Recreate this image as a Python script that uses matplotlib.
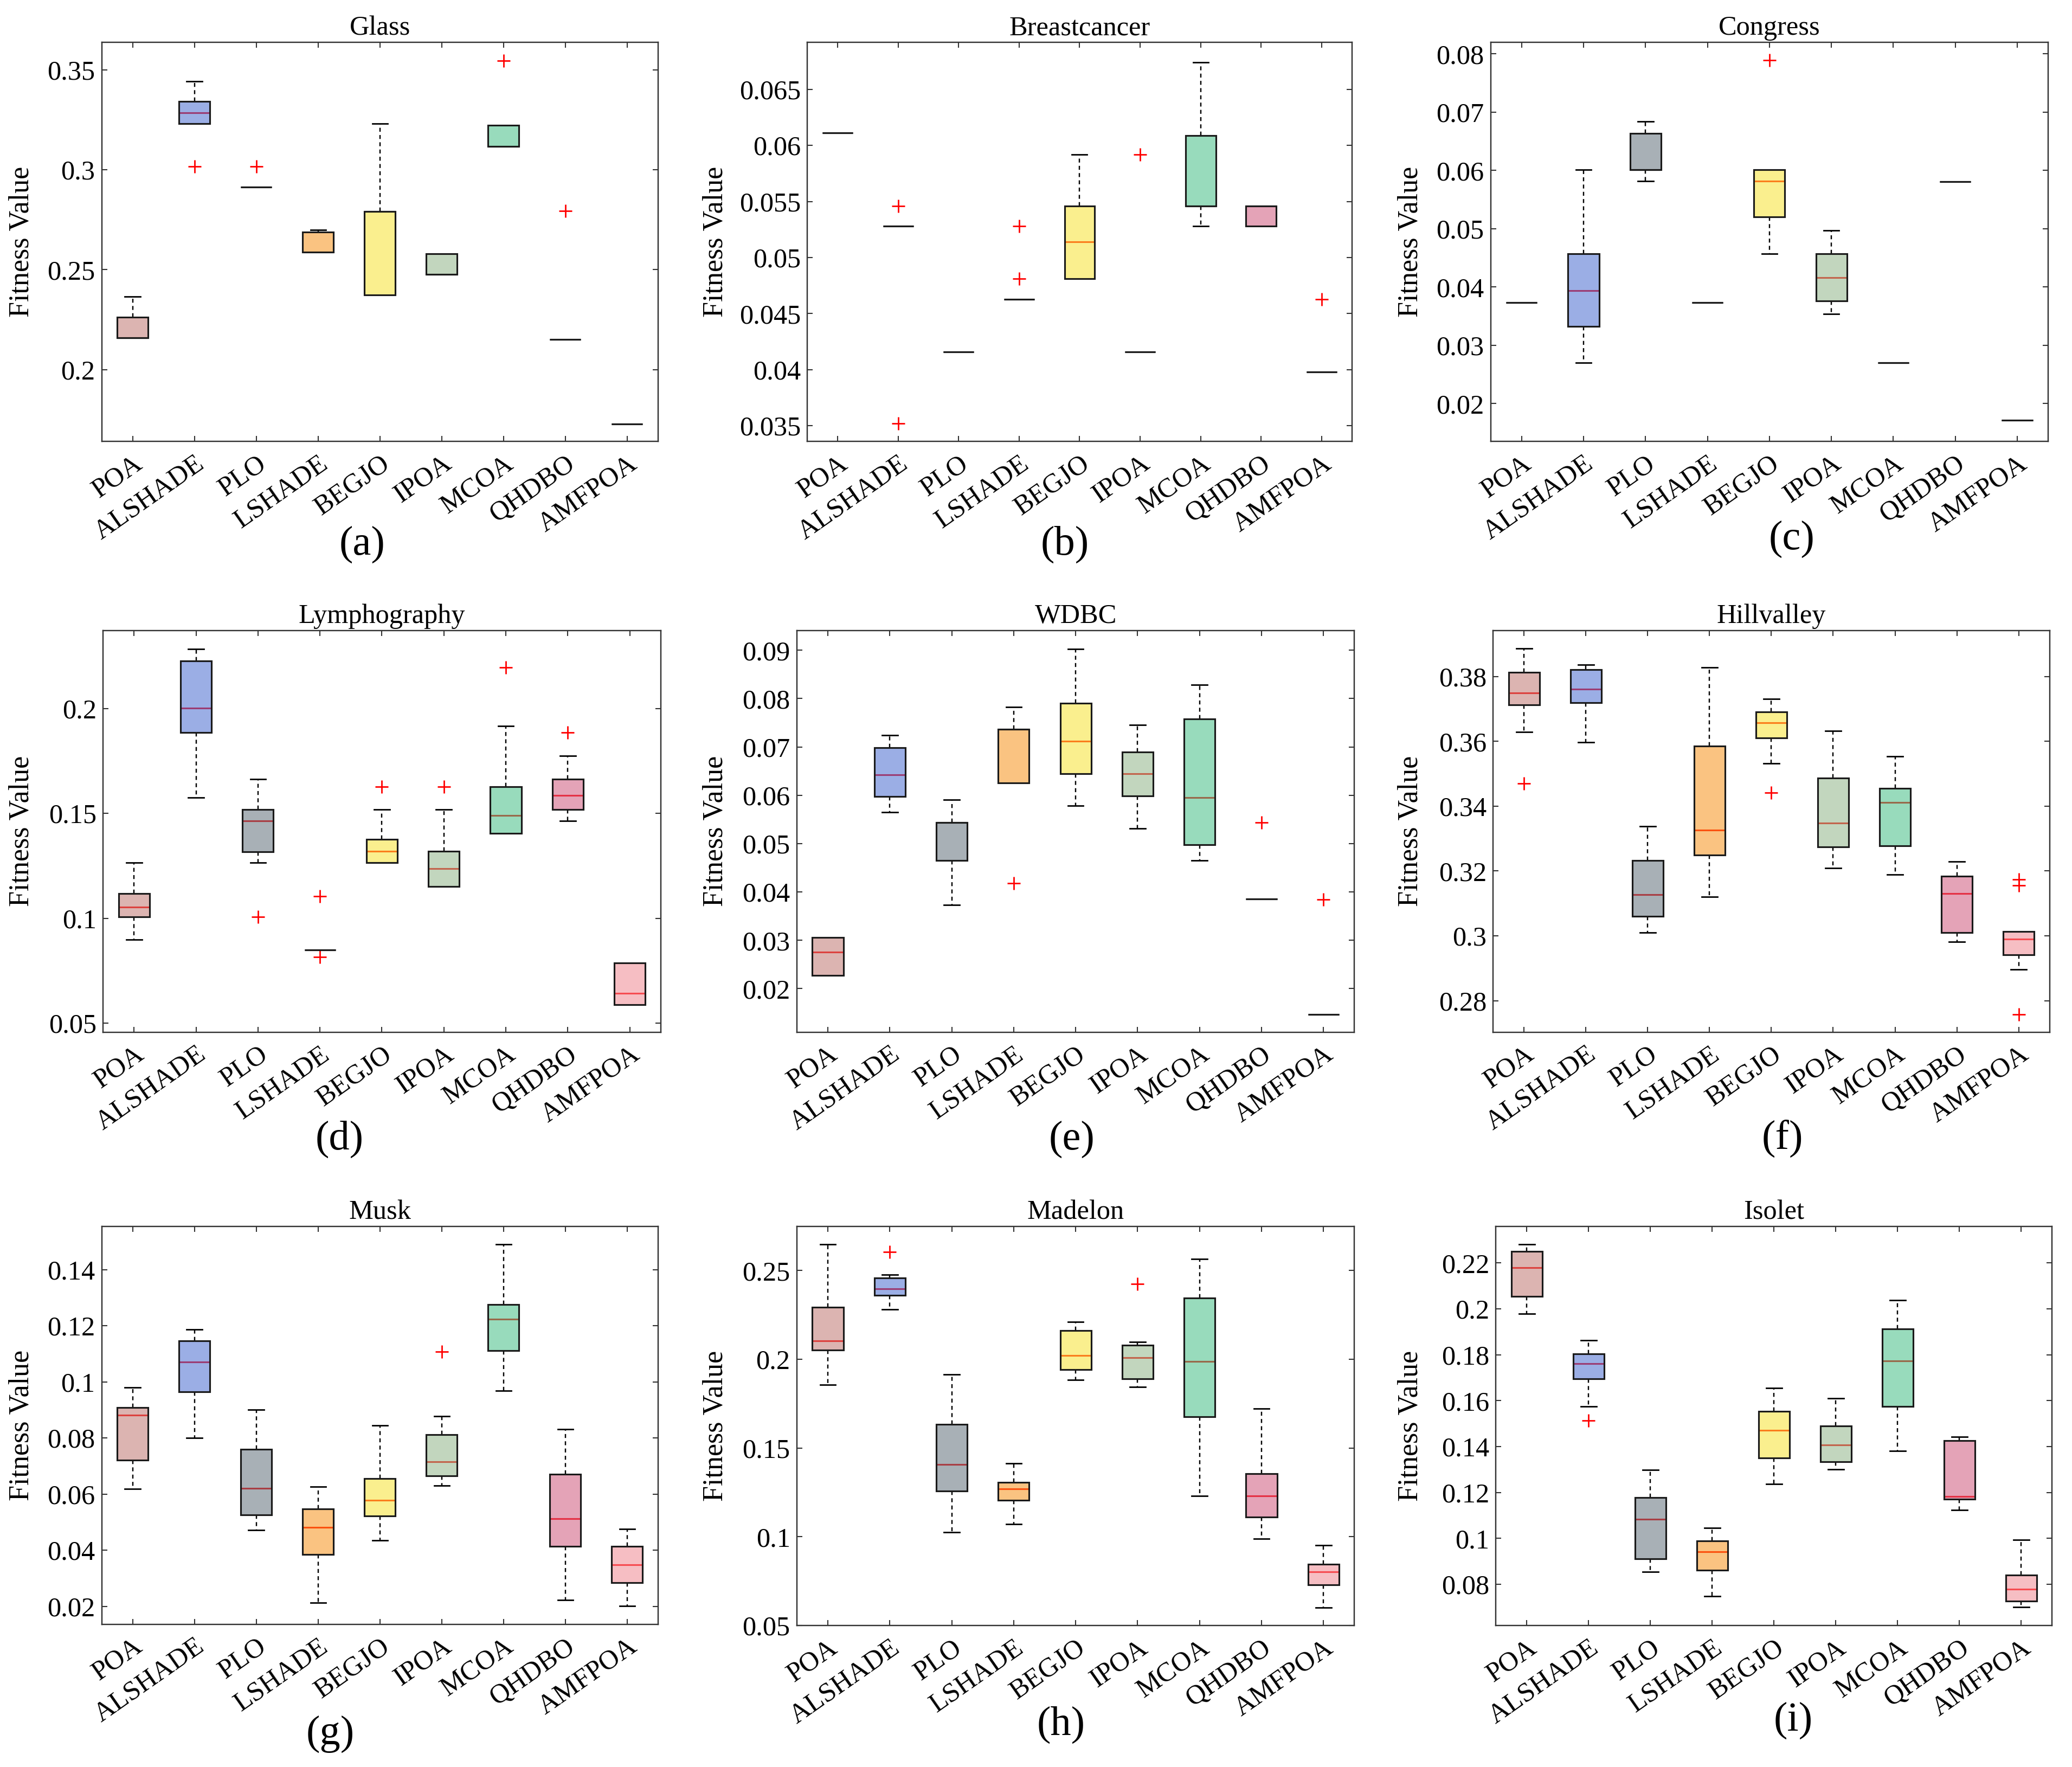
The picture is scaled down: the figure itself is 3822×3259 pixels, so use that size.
import matplotlib
matplotlib.use("Agg")
import matplotlib.pyplot as plt
from matplotlib.ticker import MultipleLocator, FuncFormatter
from matplotlib.colors import to_rgb

plt.rcParams['font.family'] = ['Liberation Serif', 'DejaVu Serif']

algorithms = ["POA", "ALSHADE", "PLO", "LSHADE", "BEGJO", "IPOA", "MCOA", "QHDBO", "AMFPOA"]
box_colors = ["#DDB5B2", "#9CAFE6", "#A9B1B7", "#FBC482", "#FBF08F",
              "#C3D7BF", "#99DCBD", "#E5A4B8", "#F7BFC4"]

# ---------------- (a) Glass ----------------
glass_lo  = [0.2159, 0.3231, 0.2913, 0.2587, 0.2374, 0.2476, 0.3117, 0.2151, 0.1729]
glass_q1  = [0.2159, 0.3231, 0.2913, 0.2587, 0.2374, 0.2476, 0.3117, 0.2151, 0.1729]
glass_med = [0.2159, 0.3285, 0.2913, 0.2587, 0.2792, 0.2476, 0.3117, 0.2151, 0.1729]
glass_q3  = [0.2262, 0.3341, 0.2913, 0.2689, 0.2792, 0.2579, 0.3224, 0.2151, 0.1729]
glass_hi  = [0.2366, 0.3444, 0.2913, 0.2699, 0.3231, 0.2579, 0.3224, 0.2151, 0.1729]
glass_fl  = [[], [0.3016], [0.3016], [], [], [], [0.3547], [0.2794], []]

# ---------------- (b) Breastcancer ----------------
breast_lo  = [0.0611, 0.0528, 0.0416, 0.0463, 0.0481, 0.0416, 0.0528, 0.0528, 0.0398]
breast_q1  = [0.0611, 0.0528, 0.0416, 0.0463, 0.0481, 0.0416, 0.0546, 0.0528, 0.0398]
breast_med = [0.0611, 0.0528, 0.0416, 0.0463, 0.0514, 0.0416, 0.0546, 0.0546, 0.0398]
breast_q3  = [0.0611, 0.0528, 0.0416, 0.0463, 0.0546, 0.0416, 0.0609, 0.0546, 0.0398]
breast_hi  = [0.0611, 0.0528, 0.0416, 0.0463, 0.0592, 0.0416, 0.0674, 0.0546, 0.0398]
breast_fl  = [[], [0.0546, 0.0352], [], [0.0528, 0.0481], [], [0.0592], [], [], [0.0463]]

# ---------------- (c) Congress ----------------
congress_lo  = [0.0373, 0.0270, 0.0582, 0.0373, 0.0457, 0.0354, 0.0270, 0.0581, 0.0171]
congress_q1  = [0.0373, 0.0332, 0.0601, 0.0373, 0.0520, 0.0376, 0.0270, 0.0581, 0.0171]
congress_med = [0.0373, 0.0394, 0.0601, 0.0373, 0.0582, 0.0416, 0.0270, 0.0581, 0.0171]
congress_q3  = [0.0373, 0.0457, 0.0664, 0.0373, 0.0601, 0.0457, 0.0270, 0.0581, 0.0171]
congress_hi  = [0.0373, 0.0601, 0.0684, 0.0373, 0.0601, 0.0497, 0.0270, 0.0581, 0.0171]
congress_fl  = [[], [], [], [], [0.0789], [], [], [], []]

# ---------------- (d) Lymphography ----------------
lympho_lo  = [0.0897, 0.1574, 0.1264, 0.0850, 0.1264, 0.1152, 0.1406, 0.1464, 0.0588]
lympho_q1  = [0.1007, 0.1885, 0.1318, 0.0850, 0.1264, 0.1152, 0.1406, 0.1518, 0.0588]
lympho_med = [0.1054, 0.2002, 0.1464, 0.0850, 0.1320, 0.1237, 0.1491, 0.1585, 0.0643]
lympho_q3  = [0.1119, 0.2227, 0.1518, 0.0850, 0.1376, 0.1320, 0.1628, 0.1663, 0.0787]
lympho_hi  = [0.1264, 0.2283, 0.1663, 0.0850, 0.1518, 0.1518, 0.1917, 0.1774, 0.0787]
lympho_fl  = [[], [], [0.1007], [0.1105, 0.0816], [0.1628], [0.1628], [0.2195], [0.1885], []]

# ---------------- (e) WDBC ----------------
wdbc_lo  = [0.0227, 0.0565, 0.0373, 0.0625, 0.0578, 0.0531, 0.0465, 0.0386, 0.0147]
wdbc_q1  = [0.0227, 0.0598, 0.0465, 0.0625, 0.0645, 0.0599, 0.0498, 0.0386, 0.0147]
wdbc_med = [0.0276, 0.0642, 0.0544, 0.0737, 0.0712, 0.0645, 0.0595, 0.0386, 0.0147]
wdbc_q3  = [0.0306, 0.0698, 0.0544, 0.0737, 0.0790, 0.0690, 0.0758, 0.0386, 0.0147]
wdbc_hi  = [0.0306, 0.0724, 0.0591, 0.0783, 0.0903, 0.0745, 0.0828, 0.0386, 0.0147]
wdbc_fl  = [[], [], [], [0.0418], [], [], [], [0.0544], [0.0385]]

# ---------------- (f) Hillvalley ----------------
hill_lo  = [0.3629, 0.3597, 0.3011, 0.3120, 0.3532, 0.3210, 0.3189, 0.2981, 0.2897]
hill_q1  = [0.3712, 0.3719, 0.3061, 0.3249, 0.3611, 0.3275, 0.3278, 0.3010, 0.2941]
hill_med = [0.3750, 0.3761, 0.3128, 0.3326, 0.3658, 0.3348, 0.3412, 0.3130, 0.2990]
hill_q3  = [0.3812, 0.3821, 0.3233, 0.3586, 0.3691, 0.3487, 0.3455, 0.3184, 0.3014]
hill_hi  = [0.3886, 0.3836, 0.3338, 0.3828, 0.3731, 0.3633, 0.3554, 0.3229, 0.3014]
hill_fl  = [[0.3470], [], [], [], [0.3442], [], [], [], [0.3174, 0.3155, 0.2757]]

# ---------------- (g) Musk ----------------
musk_lo  = [0.0618, 0.0800, 0.0472, 0.0212, 0.0436, 0.0630, 0.0969, 0.0223, 0.0202]
musk_q1  = [0.0722, 0.0964, 0.0525, 0.0384, 0.0523, 0.0666, 0.1112, 0.0413, 0.0285]
musk_med = [0.0882, 0.1070, 0.0620, 0.0481, 0.0578, 0.0716, 0.1223, 0.0512, 0.0349]
musk_q3  = [0.0908, 0.1146, 0.0759, 0.0548, 0.0655, 0.0811, 0.1276, 0.0670, 0.0413]
musk_hi  = [0.0980, 0.1187, 0.0900, 0.0626, 0.0845, 0.0878, 0.1490, 0.0832, 0.0476]
musk_fl  = [[], [], [], [], [], [0.1107], [], [], []]

# ---------------- (h) Madelon ----------------
madelon_lo  = [0.1855, 0.2282, 0.1026, 0.1071, 0.1885, 0.1843, 0.1230, 0.0990, 0.0600]
madelon_q1  = [0.2053, 0.2360, 0.1259, 0.1206, 0.1942, 0.1891, 0.1677, 0.1111, 0.0731]
madelon_med = [0.2103, 0.2396, 0.1408, 0.1270, 0.2021, 0.2008, 0.1987, 0.1230, 0.0803]
madelon_q3  = [0.2292, 0.2458, 0.1633, 0.1306, 0.2161, 0.2080, 0.2345, 0.1357, 0.0846]
madelon_hi  = [0.2646, 0.2475, 0.1913, 0.1414, 0.2212, 0.2097, 0.2566, 0.1722, 0.0954]
madelon_fl  = [[], [0.2604], [], [], [], [0.2424], [], [], []]

# ---------------- (i) Isolet ----------------
isolet_lo  = [0.1979, 0.1575, 0.0854, 0.0749, 0.1238, 0.1300, 0.1382, 0.1123, 0.0700]
isolet_q1  = [0.2054, 0.1695, 0.0912, 0.0862, 0.1351, 0.1334, 0.1575, 0.1171, 0.0726]
isolet_med = [0.2180, 0.1761, 0.1084, 0.0941, 0.1471, 0.1408, 0.1774, 0.1182, 0.0779]
isolet_q3  = [0.2251, 0.1803, 0.1179, 0.0990, 0.1554, 0.1490, 0.1913, 0.1426, 0.0839]
isolet_hi  = [0.2282, 0.1864, 0.1298, 0.1046, 0.1654, 0.1610, 0.2038, 0.1443, 0.0993]
isolet_fl  = [[], [0.1513], [], [], [], [], [], [], []]

titles = ["Glass", "Breastcancer", "Congress", "Lymphography", "WDBC",
          "Hillvalley", "Musk", "Madelon", "Isolet"]
sublabels = ["(a)", "(b)", "(c)", "(d)", "(e)", "(f)", "(g)", "(h)", "(i)"]
ylims = [(0.1641, 0.3638), (0.0336, 0.0692), (0.0135, 0.0820),
         (0.0457, 0.2372), (0.0110, 0.0941), (0.2703, 0.3942),
         (0.0136, 0.1554), (0.0500, 0.2748), (0.0620, 0.2359)]
ysteps = [0.05, 0.005, 0.01, 0.05, 0.01, 0.02, 0.02, 0.05, 0.02]

panel_data = [
    (glass_lo, glass_q1, glass_med, glass_q3, glass_hi, glass_fl),
    (breast_lo, breast_q1, breast_med, breast_q3, breast_hi, breast_fl),
    (congress_lo, congress_q1, congress_med, congress_q3, congress_hi, congress_fl),
    (lympho_lo, lympho_q1, lympho_med, lympho_q3, lympho_hi, lympho_fl),
    (wdbc_lo, wdbc_q1, wdbc_med, wdbc_q3, wdbc_hi, wdbc_fl),
    (hill_lo, hill_q1, hill_med, hill_q3, hill_hi, hill_fl),
    (musk_lo, musk_q1, musk_med, musk_q3, musk_hi, musk_fl),
    (madelon_lo, madelon_q1, madelon_med, madelon_q3, madelon_hi, madelon_fl),
    (isolet_lo, isolet_q1, isolet_med, isolet_q3, isolet_hi, isolet_fl),
]

# layout in reference "shown" pixel units (1568 x 1337)
W, H = 1568.0, 1337.0
axes_px = [(77, 498, 32, 334), (611, 1023, 32, 334), (1128, 1550, 32, 334),
           (78, 500, 477, 781), (603, 1025, 477, 781), (1130, 1551, 477, 781),
           (77, 498, 928, 1229), (603, 1025, 928, 1230), (1132, 1553, 928, 1230)]
ylabel_x = [26, 551, 1077]   # right edge of the rotated y-label
sub_pos = [(274, 412), (806, 412), (1356, 408),
           (257, 862), (811, 862), (1349, 862),
           (250, 1312), (803, 1305), (1357, 1302)]

FACE_ALPHA = 0.5


def translucent_face(hex_color, alpha):
    # face colour that, blended over white at the given alpha, gives hex_color
    r, g, b = to_rgb(hex_color)
    return tuple(min(1.0, max(0.0, (c - (1 - alpha)) / alpha)) for c in (r, g, b)) + (alpha,)


fig = plt.figure(figsize=(3822 / 250, 3259 / 250), dpi=250)

for i in range(9):
    L, R, T, B = axes_px[i]
    ax = fig.add_axes([L / W, 1 - B / H, (R - L) / W, (B - T) / H])
    lo, q1, med, q3, hi, fl = panel_data[i]
    stats = []
    for k in range(9):
        stats.append(dict(med=med[k], q1=q1[k], q3=q3[k], whislo=lo[k],
                          whishi=hi[k], fliers=fl[k], label=algorithms[k]))
    res = ax.bxp(stats, positions=list(range(1, 10)), widths=0.5,
                 patch_artist=True, showfliers=True,
                 boxprops=dict(edgecolor="#1a1a1a", linewidth=0.9, zorder=3),
                 whiskerprops=dict(color="k", linewidth=0.7, linestyle=(0, (3, 2.5))),
                 capprops=dict(color="k", linewidth=0.8),
                 medianprops=dict(color="#ff1a1a", linewidth=0.9, zorder=2.5),
                 flierprops=dict(marker="+", markeredgecolor="red", markersize=7,
                                 markeredgewidth=0.8, linestyle="none"))
    for k, patch in enumerate(res["boxes"]):
        patch.set_facecolor(translucent_face(box_colors[k], FACE_ALPHA))
    for k, mline in enumerate(res["medians"]):
        if abs(med[k] - q1[k]) < 1e-9 or abs(med[k] - q3[k]) < 1e-9:
            mline.set_color("#1a1a1a")

    ax.set_xlim(0.5, 9.5)
    ax.set_ylim(*ylims[i])
    ax.yaxis.set_major_locator(MultipleLocator(ysteps[i]))
    ax.yaxis.set_major_formatter(FuncFormatter(lambda v, p: f"{round(v, 4):g}"))
    ax.set_xticks(list(range(1, 10)))
    ax.set_xticklabels(algorithms, rotation=35, ha="right", va="top",
                       rotation_mode="anchor", fontsize=14.5)
    ax.tick_params(direction="in", top=True, right=True, length=3, width=0.6,
                   colors="#333333", labelcolor="black")
    ax.tick_params(axis="y", labelsize=14.5)
    ax.tick_params(axis="x", pad=5)
    for sp in ax.spines.values():
        sp.set_color("#333333")
        sp.set_linewidth(0.7)
    ax.set_title(titles[i], fontsize=14.5, pad=4)
    ax.set_ylabel("Fitness Value", fontsize=15)
    col = i % 3
    ax.yaxis.set_label_coords((ylabel_x[col] - L) / (R - L), 0.5)
    sx, sy = sub_pos[i]
    fig.text(sx / W, 1 - sy / H, sublabels[i], fontsize=22, ha="center", va="center")

fig.savefig("out.png", dpi=250)
